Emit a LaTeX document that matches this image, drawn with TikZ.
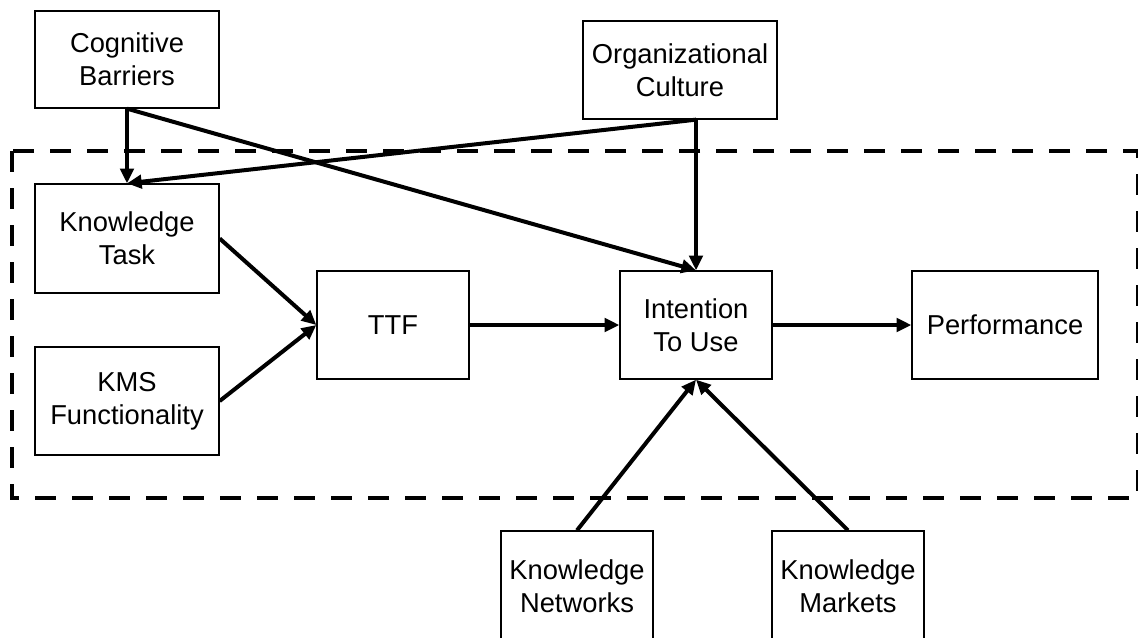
\documentclass[tikz,border=0pt]{standalone}
\usepackage{fontspec}
\setmainfont{Liberation Sans}
\usetikzlibrary{arrows.meta}
\tikzset{
  box/.style={draw, line width=1pt, align=center, inner sep=1pt, font=\fontsize{20.5}{24.75}\selectfont},
  arr/.style={-{Triangle[length=11pt,width=10pt]}, line width=3pt},
  frame/.style={line width=3pt, dash pattern=on 15.75pt off 12pt},
}
\begin{document}
\begin{tikzpicture}[x=0.75pt,y=-0.75pt]
	\useasboundingbox (0,0) rectangle (1138,637);
	% dashed frame
	\draw[frame] (12,151) rectangle (1137.5,498);
	% outer factors
	\node[box, minimum width=138pt, minimum height=72.75pt] (cb) at (127,59.5) {Cognitive\\Barriers};
	\node[box, minimum width=145.5pt, minimum height=73.5pt] (oc) at (680,70) {Organizational\\Culture};
	% inner model
	\node[box, minimum width=138pt, minimum height=81.75pt] (kt) at (127,238.5) {Knowledge\\Task};
	\node[box, minimum width=138pt, minimum height=81pt] (kms) at (127,401) {KMS\\Functionality};
	\node[box, minimum width=114pt, minimum height=81pt] (ttf) at (393,325) {TTF};
	\node[box, minimum width=114pt, minimum height=81pt] (itu) at (696,325) {Intention\\To Use};
	\node[box, minimum width=139.5pt, minimum height=81pt] (perf) at (1005,325) {Performance};
	% lower factors
	\node[box, minimum width=114pt, minimum height=82.5pt] (kn) at (577,586) {Knowledge\\Networks};
	\node[box, minimum width=114pt, minimum height=82.5pt] (km) at (848,586) {Knowledge\\Markets};
	\coordinate (oc-out) at (oc.south -| itu.north);
	% arrows
	\draw[arr] (cb.south) -- (kt.north);
	\draw[arr] (cb.south) -- (itu.north);
	\draw[arr] (oc-out) -- (kt.north);
	\draw[arr] (oc-out) -- (itu.north);
	\draw[arr] (kt.east) -- (ttf.west);
	\draw[arr] (kms.east) -- (ttf.west);
	\draw[arr] (ttf.east) -- (itu.west);
	\draw[arr] (itu.east) -- (perf.west);
	\draw[arr] (kn.north) -- (itu.south);
	\draw[arr] (km.north) -- (itu.south);
\end{tikzpicture}
\end{document}
